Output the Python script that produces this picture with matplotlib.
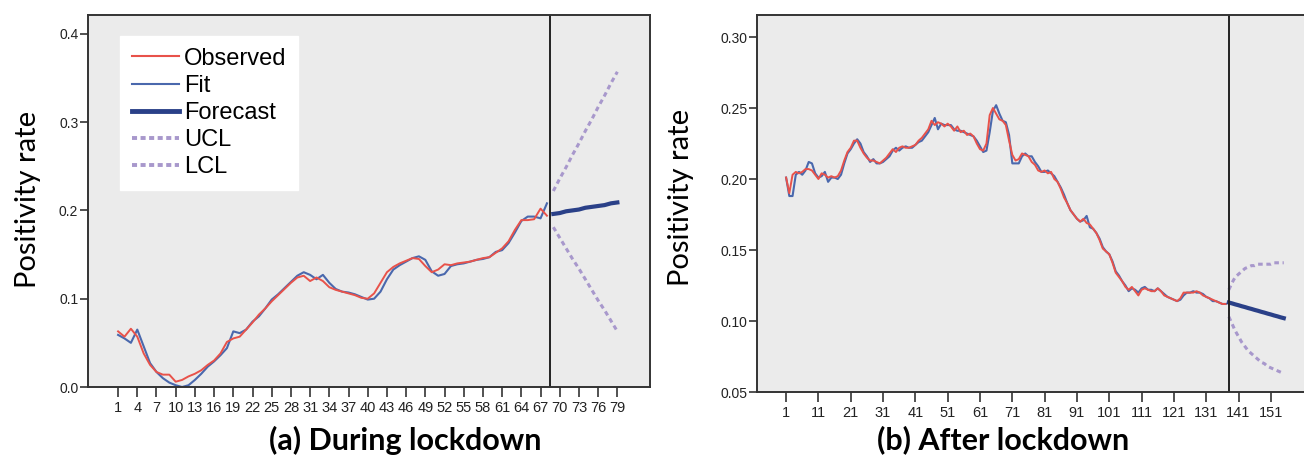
import numpy as np
import matplotlib.pyplot as plt
from matplotlib.lines import Line2D

# ---- (a) during lockdown ----
days_a = list(range(1, 69))
observed_a = [0.063, 0.057, 0.066, 0.057, 0.038, 0.025, 0.017, 0.014, 0.014, 0.006,
              0.008, 0.012, 0.015, 0.019, 0.025, 0.030, 0.038, 0.051, 0.055, 0.057,
              0.065, 0.073, 0.082, 0.089, 0.097, 0.104, 0.111, 0.118, 0.124, 0.126,
              0.120, 0.124, 0.120, 0.113, 0.110, 0.108, 0.106, 0.104, 0.101, 0.100,
              0.106, 0.118, 0.130, 0.136, 0.140, 0.143, 0.146, 0.145, 0.137, 0.130,
              0.133, 0.139, 0.138, 0.140, 0.141, 0.142, 0.144, 0.146, 0.147, 0.152,
              0.157, 0.165, 0.178, 0.189, 0.189, 0.190, 0.202, 0.194]
fit_a = [0.059, 0.055, 0.050, 0.065, 0.046, 0.027, 0.017, 0.010, 0.005, 0.002,
         0.000, 0.002, 0.008, 0.015, 0.023, 0.029, 0.036, 0.044, 0.063, 0.061,
         0.065, 0.074, 0.080, 0.089, 0.099, 0.105, 0.112, 0.119, 0.126, 0.130,
         0.127, 0.122, 0.127, 0.118, 0.111, 0.108, 0.107, 0.105, 0.102, 0.099,
         0.100, 0.108, 0.122, 0.133, 0.138, 0.142, 0.146, 0.148, 0.144, 0.131,
         0.126, 0.128, 0.137, 0.139, 0.140, 0.142, 0.144, 0.145, 0.147, 0.153,
         0.155, 0.163, 0.175, 0.188, 0.193, 0.193, 0.191, 0.208]
fc_days_a = list(range(69, 80))
forecast_a = [0.196, 0.197, 0.199, 0.200, 0.201, 0.203, 0.204, 0.205, 0.206, 0.208, 0.209]
ucl_a = [0.222, 0.236, 0.249, 0.263, 0.276, 0.290, 0.303, 0.317, 0.330, 0.344, 0.357]
lcl_a = [0.181, 0.169, 0.157, 0.145, 0.134, 0.122, 0.110, 0.098, 0.087, 0.075, 0.063]
ticks_a = list(range(1, 80, 3))

# ---- (b) after lockdown ----
days_b = list(range(1, 138))
observed_b = [0.201, 0.190, 0.203, 0.205, 0.204, 0.205, 0.207, 0.207, 0.206, 0.203,
              0.200, 0.204, 0.203, 0.201, 0.202, 0.201, 0.202, 0.206, 0.213, 0.219,
              0.222, 0.227, 0.227, 0.222, 0.218, 0.215, 0.213, 0.213, 0.212, 0.211,
              0.213, 0.215, 0.218, 0.221, 0.219, 0.222, 0.223, 0.222, 0.222, 0.223,
              0.224, 0.227, 0.229, 0.232, 0.235, 0.241, 0.238, 0.240, 0.239, 0.237,
              0.239, 0.237, 0.234, 0.237, 0.233, 0.234, 0.231, 0.232, 0.230, 0.225,
              0.221, 0.220, 0.225, 0.245, 0.250, 0.246, 0.242, 0.241, 0.238, 0.227,
              0.217, 0.213, 0.214, 0.218, 0.217, 0.216, 0.212, 0.210, 0.206, 0.205,
              0.206, 0.204, 0.205, 0.200, 0.198, 0.193, 0.187, 0.183, 0.178, 0.175,
              0.172, 0.170, 0.172, 0.169, 0.168, 0.165, 0.162, 0.157, 0.151, 0.149,
              0.147, 0.141, 0.134, 0.131, 0.128, 0.124, 0.122, 0.124, 0.121, 0.118,
              0.122, 0.123, 0.122, 0.121, 0.121, 0.123, 0.121, 0.118, 0.117, 0.116,
              0.115, 0.114, 0.116, 0.120, 0.120, 0.120, 0.120, 0.121, 0.120, 0.118,
              0.117, 0.116, 0.115, 0.114, 0.113, 0.112, 0.112]
fit_b = [0.201, 0.188, 0.188, 0.203, 0.205, 0.203, 0.206, 0.212, 0.211, 0.204,
         0.201, 0.202, 0.205, 0.198, 0.201, 0.201, 0.200, 0.203, 0.211, 0.218,
         0.221, 0.225, 0.228, 0.225, 0.219, 0.216, 0.212, 0.214, 0.211, 0.211,
         0.212, 0.214, 0.216, 0.220, 0.222, 0.220, 0.222, 0.223, 0.222, 0.222,
         0.224, 0.226, 0.227, 0.230, 0.233, 0.238, 0.243, 0.235, 0.239, 0.238,
         0.238, 0.238, 0.235, 0.234, 0.234, 0.233, 0.232, 0.231, 0.230, 0.227,
         0.223, 0.219, 0.220, 0.233, 0.248, 0.252, 0.246, 0.241, 0.240, 0.231,
         0.211, 0.211, 0.211, 0.216, 0.218, 0.216, 0.216, 0.212, 0.209, 0.205,
         0.205, 0.206, 0.204, 0.202, 0.198, 0.194, 0.189, 0.183, 0.178, 0.175,
         0.172, 0.170, 0.171, 0.174, 0.166, 0.165, 0.162, 0.158, 0.152, 0.149,
         0.147, 0.142, 0.135, 0.132, 0.128, 0.125, 0.121, 0.123, 0.122, 0.120,
         0.123, 0.124, 0.122, 0.122, 0.121, 0.123, 0.121, 0.119, 0.117, 0.116,
         0.115, 0.114, 0.115, 0.118, 0.120, 0.120, 0.121, 0.120, 0.120, 0.119,
         0.117, 0.116, 0.114, 0.114, 0.113, 0.112, 0.112]
fc_days_b = list(range(138, 156))
forecast_b = [0.1130, 0.1124, 0.1117, 0.1111, 0.1104, 0.1098, 0.1091, 0.1085, 0.1078,
              0.1072, 0.1065, 0.1059, 0.1052, 0.1046, 0.1039, 0.1033, 0.1026, 0.1020]
ucl_b = [0.122, 0.127, 0.131, 0.133, 0.135, 0.137, 0.138, 0.139, 0.139,
         0.140, 0.140, 0.140, 0.140, 0.140, 0.141, 0.141, 0.141, 0.141]
lcl_b = [0.103, 0.098, 0.093, 0.089, 0.085, 0.082, 0.079, 0.077, 0.075,
         0.073, 0.071, 0.070, 0.068, 0.067, 0.066, 0.065, 0.064, 0.063]
ticks_b = list(range(1, 152, 10))

RED = '#e8524a'
BLUE = '#4a68ad'
NAVY = '#2a4088'
LAV = '#a898cc'
BG = '#ebebeb'
NARROW = ['Liberation Sans Narrow', 'Liberation Sans']

fig = plt.figure(figsize=(13.04, 4.69), dpi=100)
ax1 = fig.add_axes([88/1304, 82/469, 562/1304, 372/469])
ax2 = fig.add_axes([757/1304, 77/469, 573/1304, 377/469])


def draw_panel(ax, days, obs, fit, fcd, fc, ucl, lcl, vline):
    ax.set_facecolor(BG)
    ax.plot(days, fit, color=BLUE, lw=1.5)
    ax.plot(days, obs, color=RED, lw=1.4)
    ax.plot(fcd, ucl, color=LAV, lw=2.2, linestyle=(0, (1.5, 1.2)))
    ax.plot(fcd, lcl, color=LAV, lw=2.2, linestyle=(0, (1.5, 1.2)))
    ax.plot(fcd, fc, color=NAVY, lw=3)
    ax.axvline(vline, color='#222222', lw=1.4)
    for s in ax.spines.values():
        s.set_color('#333333')
        s.set_linewidth(1.4)
    ax.tick_params(axis='x', direction='out', length=7, width=1.1, colors='#222222', pad=3)
    ax.tick_params(axis='y', direction='out', length=6, width=1.1, colors='#222222', pad=1)
    ax.set_ylabel('Positivity rate', fontsize=21, family='Lato')


draw_panel(ax1, days_a, observed_a, fit_a, fc_days_a, forecast_a, ucl_a, lcl_a, 68.5)
ax1.set_xlim(-3.7, 84.1)
ax1.set_ylim(0, 0.4213)
ax1.set_yticks([0.0, 0.1, 0.2, 0.3, 0.4])
ax1.set_yticklabels(['0.0', '0.1', '0.2', '0.3', '0.4'], fontsize=10, family=NARROW)
ax1.set_xticks(ticks_a)
ax1.set_xticklabels([str(t) for t in ticks_a], fontsize=10.5, family=NARROW)
ax1.yaxis.set_label_coords(-0.084, 0.503)

draw_panel(ax2, days_b, observed_b, fit_b, fc_days_b, forecast_b, ucl_b, lcl_b, 137.9)
ax2.set_xlim(-8.0, 169.3)
ax2.set_ylim(0.05, 0.3155)
ax2.set_yticks([0.05, 0.10, 0.15, 0.20, 0.25, 0.30])
ax2.set_yticklabels(['0.05', '0.10', '0.15', '0.20', '0.25', '0.30'], fontsize=10,
                    family=NARROW)
ax2.set_xticks(ticks_b)
ax2.set_xticklabels([str(t) for t in ticks_b], fontsize=10.5, family=NARROW)
ax2.yaxis.set_label_coords(-0.11, 0.517)

handles = [Line2D([], [], color=RED, lw=1.5),
           Line2D([], [], color=BLUE, lw=1.5),
           Line2D([], [], color=NAVY, lw=3.5),
           Line2D([], [], color=LAV, lw=2.8, linestyle=(0, (1.3, 0.9))),
           Line2D([], [], color=LAV, lw=2.8, linestyle=(0, (1.3, 0.9)))]
leg = ax1.legend(handles, ['Observed', 'Fit', 'Forecast', 'UCL', 'LCL'],
                 loc='upper left', bbox_to_anchor=(0.057, 0.944), borderaxespad=0,
                 frameon=True, fancybox=False, facecolor='white', edgecolor='white',
                 framealpha=1, prop={'family': 'Liberation Sans', 'size': 17},
                 handlelength=2.0, handletextpad=0.2, labelspacing=0.22,
                 borderpad=0.5)

fig.text(405/1304, 1 - 440/469, '(a) During lockdown', ha='center', va='center',
         fontsize=22, fontweight='bold', family='Lato')
fig.text(1003/1304, 1 - 440/469, '(b) After lockdown', ha='center', va='center',
         fontsize=22, fontweight='bold', family='Lato')

fig.savefig('out.png', dpi=100)
